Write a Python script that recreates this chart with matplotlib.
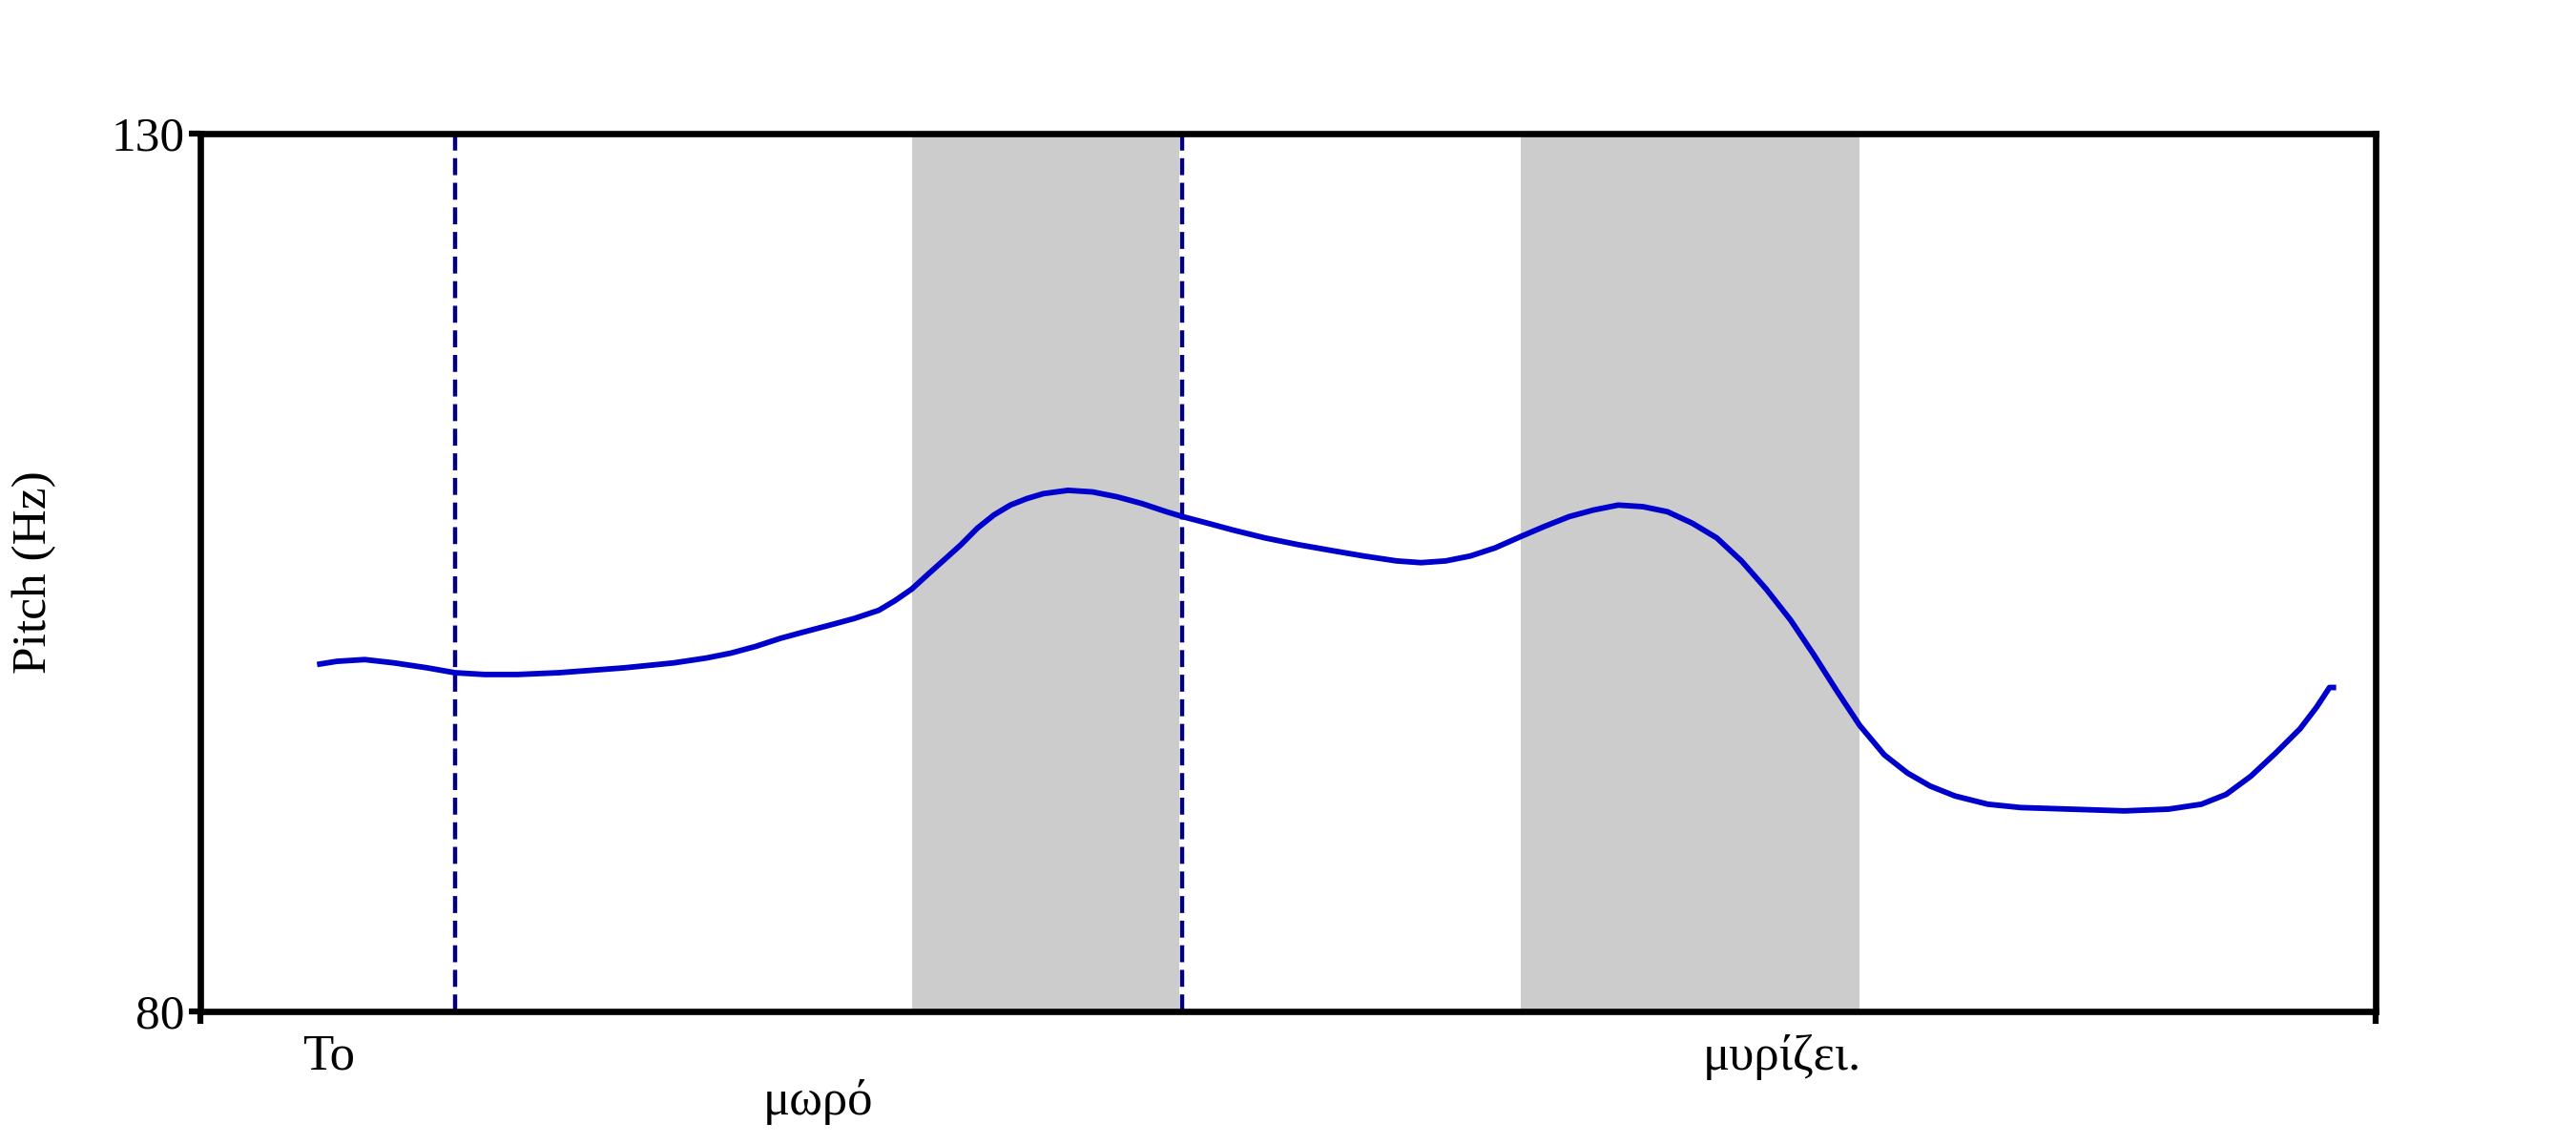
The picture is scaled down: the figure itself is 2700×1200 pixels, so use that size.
import matplotlib
matplotlib.use("Agg")
import matplotlib.pyplot as plt
import matplotlib.transforms as mtransforms

plt.rcParams['font.family'] = ['Liberation Serif', 'DejaVu Serif']

# pitch track (time in s, pitch in Hz)
times = [0.0912, 0.1066, 0.1284, 0.1515, 0.1772, 0.1990, 0.2221, 0.2478, 0.2799, 0.3313,
         0.3698, 0.3955, 0.4147, 0.4340, 0.4533, 0.4725, 0.4918, 0.5110, 0.5303, 0.5431,
         0.5560, 0.5688, 0.5817, 0.5945, 0.6073, 0.6202, 0.6330, 0.6459, 0.6587, 0.6780,
         0.6972, 0.7165, 0.7357, 0.7550, 0.7678, 0.7871, 0.8064, 0.8320, 0.8577, 0.8834,
         0.9091, 0.9348, 0.9540, 0.9733, 0.9925, 1.0118, 1.0323, 1.0503, 1.0696, 1.0888,
         1.1081, 1.1274, 1.1466, 1.1659, 1.1851, 1.2044, 1.2237, 1.2429, 1.2609, 1.2789,
         1.2968, 1.3161, 1.3341, 1.3520, 1.3713, 1.3970, 1.4227, 1.4612, 1.5036, 1.5382,
         1.5639, 1.5832, 1.6024, 1.6217, 1.6410, 1.6538, 1.6640, 1.6692]
pitch = [99.76, 99.94, 100.04, 99.85, 99.57, 99.29, 99.19, 99.19, 99.29, 99.57,
         99.85, 100.13, 100.41, 100.79, 101.25, 101.63, 102.00, 102.38, 102.85, 103.41,
         104.06, 104.91, 105.75, 106.59, 107.53, 108.28, 108.84, 109.21, 109.49, 109.68,
         109.59, 109.31, 108.93, 108.46, 108.18, 107.81, 107.43, 106.97, 106.59, 106.26,
         105.94, 105.66, 105.56, 105.66, 105.94, 106.40, 107.06, 107.62, 108.18, 108.56,
         108.84, 108.75, 108.46, 107.81, 106.97, 105.66, 104.06, 102.28, 100.32, 98.26,
         96.29, 94.61, 93.58, 92.83, 92.27, 91.80, 91.61, 91.52, 91.42, 91.52,
         91.80, 92.36, 93.39, 94.70, 96.10, 97.32, 98.45, 98.45]

duration = 1.7
ymin, ymax = 80, 130

boundaries = [0.199, 0.767]
stressed = [(0.556, 0.765), (1.032, 1.297)]

words = ['To', 'μωρό', 'μυρίζει.']
word_times = [0.100, 0.483, 1.236]
word_rows = [0, 1, 0]

fig = plt.figure(figsize=(27, 12), dpi=100)
ax = fig.add_axes([0.0778, 0.1167, 0.8444, 0.7666])

for a, b in stressed:
    ax.axvspan(a, b, color='#cccccc', lw=0, zorder=0)

for b in boundaries:
    ax.axvline(b, color='#000080', lw=3.2, dashes=(4, 1.8), zorder=1)

ax.plot(times, pitch, color='#0000cc', lw=4.2, solid_joinstyle='round',
        solid_capstyle='butt', zorder=2)

ax.set_xlim(0, duration)
ax.set_ylim(ymin, ymax)
ax.set_yticks([ymin, ymax])
ax.set_xticks([0, duration])
ax.set_xticklabels(['', ''])
ax.tick_params(axis='both', length=9, width=4.5, direction='out', labelsize=37, pad=3)
for s in ax.spines.values():
    s.set_linewidth(4.8)

ax.set_ylabel('Pitch (Hz)', fontsize=37)
ax.yaxis.set_label_coords(-0.066, 0.5)

trans = mtransforms.blended_transform_factory(ax.transData, ax.transAxes)
for w, t, r in zip(words, word_times, word_rows):
    ax.text(t, -0.052 - 0.051 * r, w, transform=trans, ha='center', va='center', fontsize=38)

fig.savefig('out.png', dpi=100, facecolor='white')
